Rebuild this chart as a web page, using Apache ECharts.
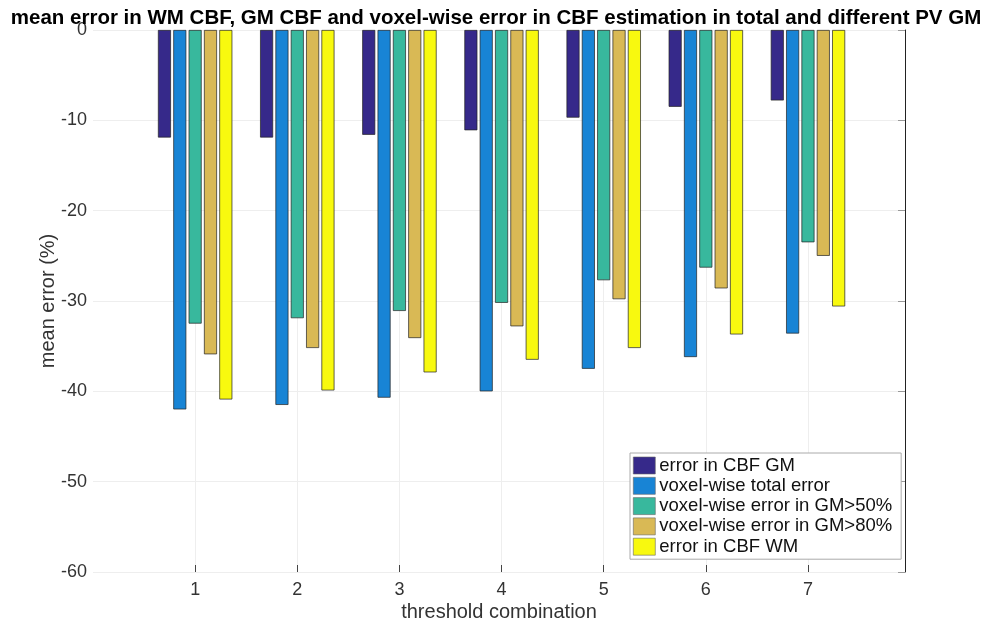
<!DOCTYPE html>
<html>
<head>
<meta charset="utf-8">
<script src="https://cdn.jsdelivr.net/npm/echarts@6/dist/echarts.min.js"></script>
<style>html,body{margin:0;padding:0;background:#fff}#c{width:992px;height:638px}</style>
</head>
<body>
<div id="c"></div>
<script>
var categories = [1, 2, 3, 4, 5, 6, 7];
var seriesNames = ['error in CBF GM', 'voxel-wise total error', 'voxel-wise error in GM>50%', 'voxel-wise error in GM>80%', 'error in CBF WM'];
var errCBFGM = [-11.9, -11.9, -11.6, -11.1, -9.7, -8.5, -7.8];
var voxelTotal = [-42.0, -41.5, -40.7, -40.0, -37.5, -36.2, -33.6];
var voxelGM50 = [-32.5, -31.9, -31.1, -30.2, -27.7, -26.3, -23.5];
var voxelGM80 = [-35.9, -35.2, -34.1, -32.8, -29.8, -28.6, -25.0];
var errCBFWM = [-40.9, -39.9, -37.9, -36.5, -35.2, -33.7, -30.6];
var yTicks = [0, -10, -20, -30, -40, -50, -60];
var colors = ['#36298a', '#1884d5', '#38b89d', '#d9b955', '#f8f90f'];

var allValues = [errCBFGM, voxelTotal, voxelGM50, voxelGM80, errCBFWM];
var font = 'Liberation Sans, Arial, sans-serif';

var series = allValues.map(function (vals, i) {
  return {
    name: seriesNames[i],
    type: 'bar',
    barWidth: 13,
    barGap: '18%',
    data: categories.map(function (c, j) { return [c, vals[j]]; }),
    itemStyle: { color: colors[i], borderColor: '#222', borderWidth: 0.7 },
    emphasis: { disabled: true }
  };
});

var chart = echarts.init(document.getElementById('c'));
chart.setOption({
  animation: false,
  backgroundColor: '#fff',
  title: {
    text: 'mean error in WM CBF, GM CBF and voxel-wise error in CBF estimation in total and different PV GM',
    left: 'center',
    top: 3,
    textStyle: { fontFamily: font, fontSize: 20.5, fontWeight: 'bold', color: '#000' }
  },
  grid: { left: 93, right: 87, top: 30, bottom: 66 },
  legend: {
    orient: 'vertical',
    left: 630,
    top: 453,
    itemWidth: 22,
    itemHeight: 17,
    itemGap: 1.3,
    padding: [3, 9, 3, 3],
    backgroundColor: '#fff',
    borderColor: '#aaa',
    borderWidth: 1,
    borderRadius: 0,
    icon: 'rect',
    itemStyle: { borderColor: '#666', borderWidth: 0.6 },
    textStyle: { fontFamily: font, fontSize: 18.5, lineHeight: 17, color: '#111', padding: [0, 0, 0, -1] },
    data: seriesNames
  },
  xAxis: {
    type: 'value',
    min: 0,
    max: 7.95,
    interval: 1,
    name: 'threshold combination',
    nameLocation: 'middle',
    nameGap: 30,
    nameMoveOverlap: false,
    nameTextStyle: { fontFamily: font, fontSize: 20, color: '#333' },
    axisLine: { show: false, onZero: false },
    axisTick: { show: true, inside: true, length: 7, lineStyle: { color: '#444' }, customValues: categories },
    axisLabel: { fontFamily: font, fontSize: 18, color: '#333', margin: 9, customValues: categories },
    splitLine: { show: true, lineStyle: { color: '#eeeeee', width: 1 } }
  },
  yAxis: [{
    type: 'value',
    min: -60,
    max: 0,
    interval: 10,
    name: 'mean error (%)',
    nameLocation: 'middle',
    nameGap: 35,
    nameMoveOverlap: false,
    nameTextStyle: { fontFamily: font, fontSize: 20, color: '#333' },
    axisLine: { show: false },
    axisTick: { show: false },
    axisLabel: { fontFamily: font, fontSize: 18, color: '#333', margin: 6 },
    splitLine: { show: true, lineStyle: { color: '#eeeeee', width: 1 } }
  }, {
    type: 'value',
    position: 'right',
    min: -60,
    max: 0,
    interval: 10,
    axisLine: { show: true, lineStyle: { color: '#222', width: 1 } },
    axisTick: { show: true, inside: true, length: 7, lineStyle: { color: '#999' } },
    axisLabel: { show: false },
    splitLine: { show: false }
  }],
  series: series
});
</script>
</body>
</html>
